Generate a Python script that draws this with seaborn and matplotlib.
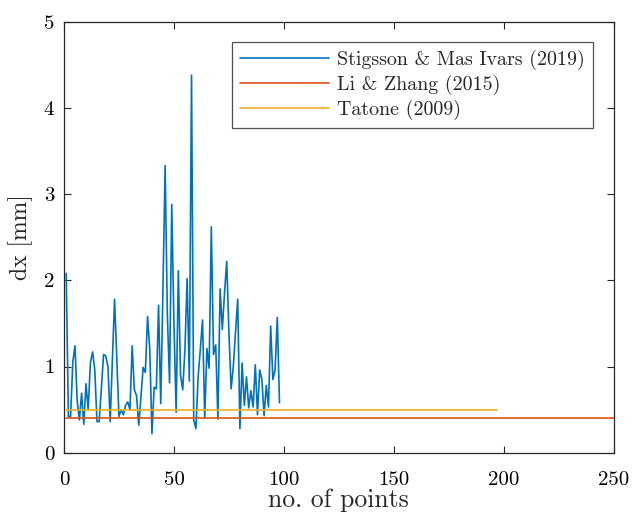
import numpy as np
import pandas as pd
import matplotlib
matplotlib.use("Agg")
import matplotlib.pyplot as plt
import seaborn as sns

# ---- data ----
stigsson_dx = [2.08, 0.42, 0.42, 1.05, 1.24, 0.60, 0.38, 0.69, 0.33, 0.80,
               0.50, 1.04, 1.17, 0.96, 0.36, 0.36, 0.75, 1.14, 1.12, 1.00,
               0.36, 1.07, 1.78, 1.10, 0.42, 0.50, 0.44, 0.55, 0.59, 0.50,
               1.24, 0.73, 0.66, 0.32, 0.65, 0.99, 0.93, 1.58, 1.20, 0.22,
               0.76, 0.74, 1.71, 0.57, 1.90, 3.33, 1.60, 0.81, 2.88, 1.50,
               0.47, 2.11, 0.90, 0.73, 1.20, 2.02, 0.83, 4.38, 0.38, 0.28,
               0.88, 1.20, 1.54, 0.40, 1.21, 0.98, 2.62, 1.14, 1.25, 0.39,
               1.90, 1.43, 1.85, 2.22, 1.40, 0.74, 1.00, 1.40, 1.78, 0.28,
               1.04, 0.55, 0.88, 0.52, 0.72, 0.53, 1.02, 0.44, 0.96, 0.85,
               0.43, 0.78, 0.53, 1.47, 0.85, 0.96, 1.57, 0.58]
stigsson_x = list(range(1, len(stigsson_dx) + 1))
li_x = [1, 250]
li_dx = [0.40, 0.40]
tatone_x = [1, 197]
tatone_dx = [0.50, 0.50]
labels = ["Stigsson & Mas Ivars (2019)", "Li & Zhang (2015)", "Tatone (2009)"]
colors = ["#0072BD", "#D95319", "#EDB120"]
x_ticks = [0, 50, 100, 150, 200, 250]
y_ticks = [0, 1, 2, 3, 4, 5]

df = pd.concat([
    pd.DataFrame({"x": stigsson_x, "dx": stigsson_dx, "src": labels[0]}),
    pd.DataFrame({"x": li_x, "dx": li_dx, "src": labels[1]}),
    pd.DataFrame({"x": tatone_x, "dx": tatone_dx, "src": labels[2]}),
], ignore_index=True)

sns.set_theme(style="white")
plt.rcParams["font.family"] = ["serif"]
plt.rcParams["font.serif"] = ["cmr10", "DejaVu Serif"]
plt.rcParams["mathtext.fontset"] = "cm"
plt.rcParams["axes.formatter.use_mathtext"] = True

fig = plt.figure(figsize=(6.32, 5.15), dpi=100)
ax = fig.add_axes([64 / 632, 1 - 452.7 / 515, (613.7 - 64) / 632, (452.7 - 21.7) / 515])

sns.lineplot(data=df, x="x", y="dx", hue="src", palette=dict(zip(labels, colors)),
             hue_order=labels, estimator=None, sort=False, linewidth=1.2, ax=ax)

ax.set_xlim(0, 250)
ax.set_ylim(0, 5)
ax.set_xticks(x_ticks)
ax.set_yticks(y_ticks)
ax.set_xticklabels([str(t) for t in x_ticks])
ax.set_yticklabels([str(t) for t in y_ticks])
ax.tick_params(direction="in", length=5, width=0.8, colors="#262626",
               labelsize=15, top=True, right=True, bottom=True, left=True,
               labelcolor="black", pad=7)
ax.tick_params(axis="x", pad=13)
for s in ax.spines.values():
    s.set_visible(True)
    s.set_color("#262626")
    s.set_linewidth(0.9)

ax.set_xlabel("no. of points", fontsize=18.5, labelpad=0)
ax.set_ylabel("dx [mm]", fontsize=17, labelpad=8)

handles, lbls = ax.get_legend_handles_labels()
leg = ax.legend(handles, lbls, loc="upper right", bbox_to_anchor=(0.9624, 0.953),
                fontsize=14.4, frameon=True, fancybox=False, handlelength=4.45,
                handletextpad=0.4, borderpad=0.4, labelspacing=0.23,
                borderaxespad=0)
leg.get_frame().set_edgecolor("#262626")
leg.get_frame().set_linewidth(0.9)

fig.savefig("out.png", dpi=100, facecolor="white")
